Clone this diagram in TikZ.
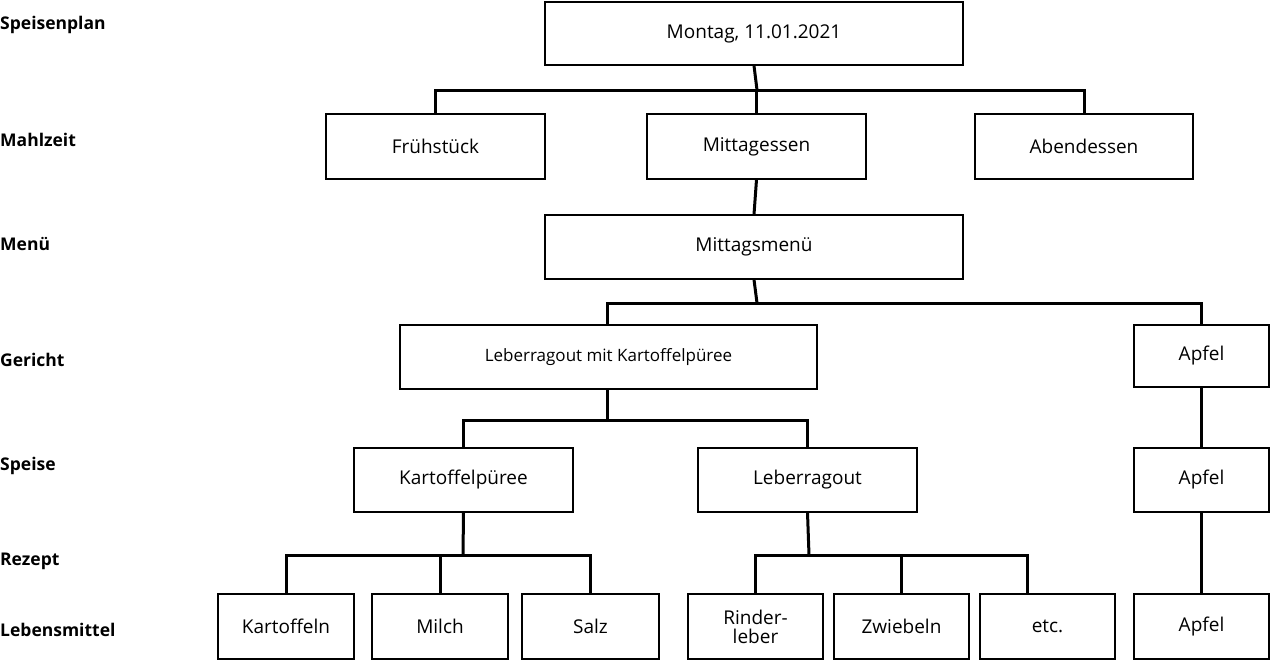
\documentclass[tikz,border=0pt]{standalone}
\usepackage{fontspec}
\setmainfont{Open Sans}
\begin{document}
\begin{tikzpicture}[x=1pt,y=-1pt,
  box/.style={draw,line width=1.3pt,inner sep=0pt,font=\fontsize{19}{21}\selectfont},
  lbl/.style={anchor=west,inner sep=0pt,font=\fontsize{17.5}{20}\selectfont\bfseries},
  con/.style={line width=3pt}]
\useasboundingbox (0,0) rectangle (1271,661);
\def\B#1#2#3#4#5#6{\node[box,minimum width=#4-#2,minimum height=#5-#3] (#1) at ({(#2+#4)/2},{(#3+#5)/2}) {#6};}
\B{mo}{545}{2}{963}{65}{Montag, 11.01.2021}
\B{fr}{326}{114}{545}{179}{Frühstück}
\B{mi}{647}{114}{866}{179}{Mittagessen}
\B{ab}{975}{114}{1193}{179}{Abendessen}
\B{mm}{545}{215}{963}{279}{Mittagsmenü}
\node[box,minimum width=417,minimum height=64,font=\fontsize{17}{19}\selectfont] (lk) at (608.5,357) {Leberragout mit Kartoffelpüree};
\B{a1}{1134}{325}{1269}{387}{Apfel}
\B{kp}{354}{448}{573}{512}{Kartoffelpüree}
\B{lr}{698}{448}{917}{512}{Leberragout}
\B{a2}{1134}{448}{1269}{512}{Apfel}
\B{ka}{218}{594}{354}{659}{Kartoffeln}
\B{ml}{372}{594}{508}{659}{Milch}
\B{sa}{522}{594}{659}{659}{Salz}
\node[box,minimum width=135,minimum height=65,align=center,font=\fontsize{19}{19}\selectfont] (ri) at (755.5,626.5) {Rinder-\\leber};
\B{zw}{834}{594}{969}{659}{Zwiebeln}
\B{et}{980}{594}{1115}{659}{etc.}
\B{a3}{1134}{594}{1269}{659}{Apfel}
\node[lbl] (l1) at (0,25) {Speisenplan};
\node[lbl] (l2) at (0,140) {Mahlzeit};
\node[lbl] (l3) at (0,244) {Menü};
\node[lbl] (l4) at (0,360) {Gericht};
\node[lbl] (l5) at (0,466) {Speise};
\node[lbl] (l6) at (0,561) {Rezept};
\node[lbl] (l7) at (0,630) {Lebensmittel};
\coordinate (b1) at (757,90);
\coordinate (b2) at (757,303);
\coordinate (b3) at (607,420);
\coordinate (b4) at (463,555);
\coordinate (b5) at (809,555);
\draw[con] (mo.south) -- (b1);
\foreach \c in {fr,mi,ab} \draw[con] (b1) -| (\c.north);
\draw[con] (mi.south) -- (mm.north);
\draw[con] (mm.south) -- (b2);
\draw[con] (b2) -| ([xshift=-1.5]lk.north); \draw[con] (b2) -| (a1.north);
\draw[con] ([xshift=-1.5]lk.south) -- (b3);
\draw[con] (b3) -| (kp.north); \draw[con] (b3) -| (lr.north);
\draw[con] (kp.south) -- (b4);
\foreach \c in {ka,ml,sa} \draw[con] (b4) -| (\c.north);
\draw[con] (lr.south) -- (b5);
\draw[con] (b5) -| (ri.north); \draw[con] (b5) -| (zw.north);
\draw[con] (b5) -| ([xshift=-20]et.north);
\draw[con] (a1) -- (a2); \draw[con] (a2) -- (a3);
\end{tikzpicture}
\end{document}
